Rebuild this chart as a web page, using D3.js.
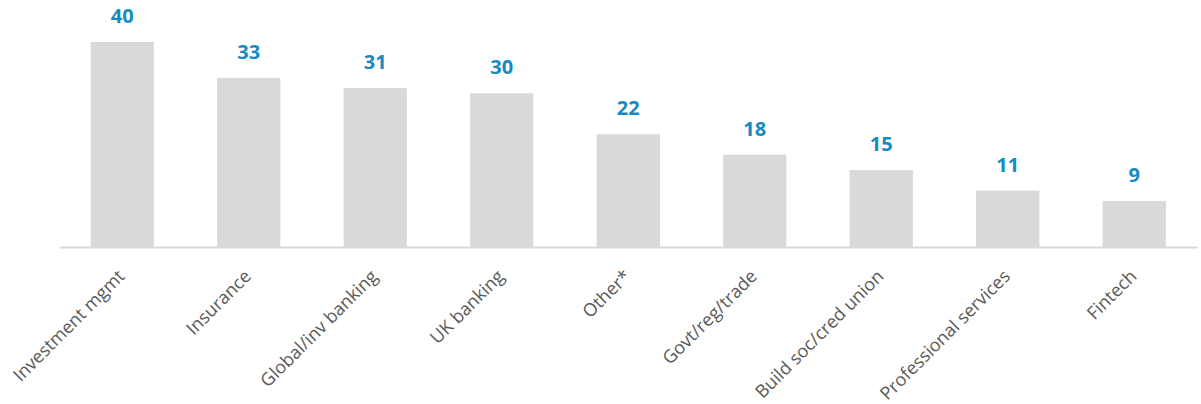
<!DOCTYPE html>
<html>
<head>
<meta charset="utf-8">
<script src="https://cdn.jsdelivr.net/npm/d3@7"></script>
<style>
  html, body { margin: 0; padding: 0; background: #fff; }
  svg { display: block; }
</style>
</head>
<body>
<svg id="chart" width="1201" height="404"></svg>
<script>
// Respondents by sector
const categories = [
  "Investment mgmt", "Insurance", "Global/inv banking", "UK banking",
  "Other*", "Govt/reg/trade", "Build soc/cred union", "Professional services", "Fintech"
];
const values = [40, 33, 31, 30, 22, 18, 15, 11, 9];

const svg = d3.select("#chart");
const baseline = 247;

const x = d3.scaleBand()
  .domain(categories)
  .range([59, 1197.5])
  .paddingInner(0.5)
  .paddingOuter(0.25);

const y = d3.scaleLinear()
  .domain([0, 40])
  .range([baseline, 42]);

// bars
svg.append("g")
  .selectAll("rect")
  .data(values)
  .join("rect")
  .attr("x", (d, i) => x(categories[i]))
  .attr("y", d => y(d))
  .attr("width", x.bandwidth())
  .attr("height", d => y(0) - y(d))
  .attr("fill", "#d9d9d9");

// category axis
const axis = svg.append("g")
  .attr("transform", `translate(0,${baseline})`)
  .call(d3.axisBottom(x).tickSize(0).tickSizeOuter(0));
axis.select(".domain")
  .attr("stroke", "#d9d9d9")
  .attr("stroke-width", 2);
axis.selectAll(".tick text")
  .attr("font-family", "'Open Sans', sans-serif")
  .attr("font-size", 18)
  .attr("fill", "#595959")
  .attr("text-anchor", "end")
  .attr("x", 0)
  .attr("y", 0)
  .attr("dy", "0.35em")
  .attr("transform", "translate(-1,26) rotate(-45)");

// value labels
svg.append("g")
  .selectAll("text")
  .data(values)
  .join("text")
  .attr("x", (d, i) => x(categories[i]) + x.bandwidth() / 2)
  .attr("y", d => y(d) - 19)
  .attr("text-anchor", "middle")
  .attr("font-family", "'Open Sans', sans-serif")
  .attr("font-weight", "bold")
  .attr("font-size", 20)
  .attr("fill", "#168bc1")
  .text(d => d);
</script>
</body>
</html>
